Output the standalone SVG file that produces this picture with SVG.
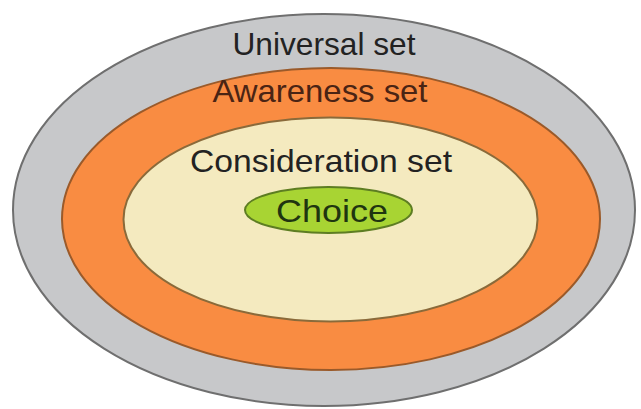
<svg xmlns="http://www.w3.org/2000/svg" width="641" height="409" viewBox="0 0 641 409">
  <style>
    .lbl { font-family: "Liberation Sans", "DejaVu Sans", sans-serif; text-anchor: middle; }
  </style>
  <rect width="641" height="409" fill="#ffffff"/>
  <g id="universal">
    <ellipse cx="324" cy="210" rx="311" ry="196" fill="#c7c8ca" stroke="#6f6f6f" stroke-width="2"/>
    <text class="lbl" x="324" y="55" font-size="32" fill="#222222" textLength="183" lengthAdjust="spacingAndGlyphs">Universal set</text>
  </g>
  <g id="awareness">
    <ellipse cx="331" cy="219" rx="269" ry="151" fill="#f98c42" stroke="#9a5a2a" stroke-width="2"/>
    <text class="lbl" x="320" y="102" font-size="32" fill="#4a2414" textLength="215" lengthAdjust="spacingAndGlyphs">Awareness set</text>
  </g>
  <g id="consideration">
    <ellipse cx="330.5" cy="219.5" rx="207" ry="102" fill="#f4eabf" stroke="#8a6a3a" stroke-width="2"/>
    <text class="lbl" x="321" y="172" font-size="32" fill="#222222" textLength="262" lengthAdjust="spacingAndGlyphs">Consideration set</text>
  </g>
  <g id="choice">
    <ellipse cx="328.5" cy="210" rx="83.5" ry="23" fill="#a8d433" stroke="#5d7d22" stroke-width="2"/>
    <text class="lbl" x="332" y="222" font-size="32" fill="#1f3510" textLength="112" lengthAdjust="spacingAndGlyphs">Choice</text>
  </g>
  <g id="connectors"></g>
</svg>
